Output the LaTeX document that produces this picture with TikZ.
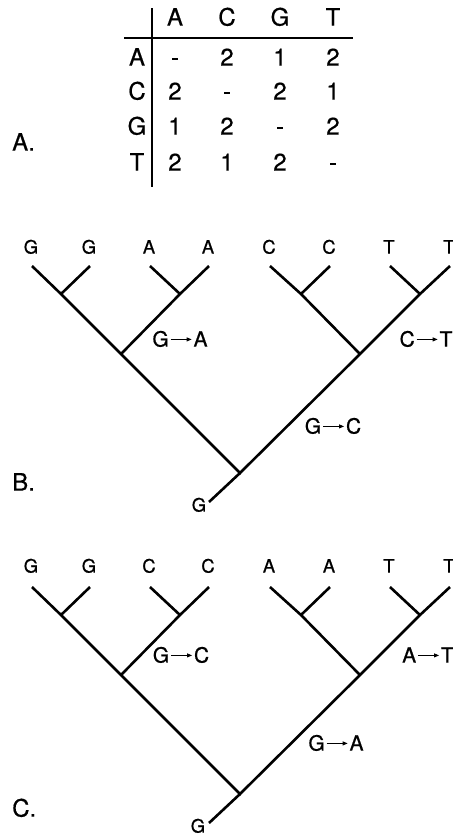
\documentclass[tikz,border=0pt]{standalone}
\usepackage{fontspec}
\setmainfont{TeX Gyre Heros}[FakeBold=0.6]
\usetikzlibrary{arrows.meta,calc}
\newcommand{\mutarrow}{\tikz[baseline=0pt]\draw[line width=0.8pt,-{Triangle[length=5pt,width=4pt]}] (0,7.2pt) -- (21pt,7.2pt);}
\newcommand{\mutlab}[2]{#1\hspace{1.5pt}\mutarrow\hspace{1.5pt}#2}
\tikzset{
  branch/.style={line width=2.6pt, line cap=butt},
  txt/.style={inner sep=0pt, text height=0.72em, text depth=0pt},
  leaflab/.style={txt, font=\fontsize{18.5}{20}\selectfont},
  mutlabel/.style={txt, font=\fontsize{21}{23}\selectfont},
  tablab/.style={txt, font=\fontsize{24}{26}\selectfont},
  panel/.style={txt, font=\fontsize{24}{26}\selectfont, anchor=west},
  rule/.style={line width=1.2pt}
}
\begin{document}
\begin{tikzpicture}[x=1pt,y=-1pt]
\useasboundingbox (0,0) rectangle (453,839);
% ---------- Panel A: table ----------
\node[panel] (pA) at (12,147) {A.};
\coordinate (vtop) at (152,8);
\coordinate (vbot) at (152,187);
\coordinate (hl) at (124,38);
\coordinate (hr) at (353,38);
\draw[rule] (vtop) -- (vbot);
\draw[rule] (hl) -- (hr);
\foreach \l/\x in {A/175,C/227,G/280,T/333}{
  \node[tablab] (h\l) at (\x,22) {\l};
}
\foreach \l/\y/\a/\b/\c/\d in {A/62/-/2/1/2, C/96/2/-/2/1, G/131/1/2/-/2, T/167/2/1/2/-}{
  \node[tablab] (r\l) at (137,\y) {\l};
  \node[tablab] (r\l a) at (175,\y) {\a};
  \node[tablab] (r\l c) at (227,\y) {\b};
  \node[tablab] (r\l g) at (280,\y) {\c};
  \node[tablab] (r\l t) at (333,\y) {\d};
}
% ---------- Panel B ----------
\node[panel] (pB) at (12,487) {B.};
\begin{scope}
  \coordinate (b1) at (32,266);  \coordinate (b2) at (90,266);
  \coordinate (b3) at (150,266); \coordinate (b4) at (209,266);
  \coordinate (b5) at (270,266); \coordinate (b6) at (330,266);
  \coordinate (b7) at (390,266); \coordinate (b8) at (450,266);
  \coordinate (bc1) at (61,294);  \coordinate (bc2) at (180,294);
  \coordinate (bc3) at (301,294); \coordinate (bc4) at (420,294);
  \coordinate (bm1) at (121,354); \coordinate (bm2) at (360,354);
  \coordinate (br) at (240,473);
  \coordinate (bt) at (209,502);
  \draw[branch] (b1) -- (bc1) -- (bm1) -- (br) -- (bm2) -- (bc4) -- (b8);
  \draw[branch] (b2) -- (bc1);
  \draw[branch] (b3) -- (bc2); \draw[branch] (b4) -- (bc2) -- (bm1);
  \draw[branch] (b5) -- (bc3) -- (bm2);
  \draw[branch] (b6) -- (bc3);
  \draw[branch] (b7) -- (bc4);
  \draw[branch] (br) -- (bt);
  \foreach \i/\l in {1/G,2/G,3/A,4/A,5/C,6/C,7/T,8/T}{
    \node[leaflab] (bl\i) at ($(b\i)+(-1,-16)$) {\l};
  }
  \node[leaflab] (broot) at (199,508) {G};
  \node[mutlabel] (bmut1) at (180,343) {\mutlab{G}{A}};
  \node[mutlabel] (bmut2) at (426,343) {\mutlab{C}{T}};
  \node[mutlabel] (bmut3) at (333,430) {\mutlab{G}{C}};
\end{scope}
% ---------- Panel C ----------
\node[panel] (pC) at (12,813) {C.};
\begin{scope}[yshift=-321pt]
  \coordinate (c1) at (32,266);  \coordinate (c2) at (90,266);
  \coordinate (c3) at (150,266); \coordinate (c4) at (209,266);
  \coordinate (c5) at (270,266); \coordinate (c6) at (330,266);
  \coordinate (c7) at (390,266); \coordinate (c8) at (450,266);
  \coordinate (cc1) at (61,294);  \coordinate (cc2) at (180,294);
  \coordinate (cc3) at (301,294); \coordinate (cc4) at (420,294);
  \coordinate (cm1) at (121,354); \coordinate (cm2) at (360,354);
  \coordinate (cr) at (240,473);
  \coordinate (ct) at (209,502);
  \draw[branch] (c1) -- (cc1) -- (cm1) -- (cr) -- (cm2) -- (cc4) -- (c8);
  \draw[branch] (c2) -- (cc1);
  \draw[branch] (c3) -- (cc2); \draw[branch] (c4) -- (cc2) -- (cm1);
  \draw[branch] (c5) -- (cc3) -- (cm2);
  \draw[branch] (c6) -- (cc3);
  \draw[branch] (c7) -- (cc4);
  \draw[branch] (cr) -- (ct);
  \foreach \i/\l in {1/G,2/G,3/C,4/C,5/A,6/A,7/T,8/T}{
    \node[leaflab] (cl\i) at ($(c\i)+(-1,-18)$) {\l};
  }
  \node[leaflab] (croot) at (198,508) {G};
  \node[mutlabel] (cmut1) at (181,338) {\mutlab{G}{C}};
  \node[mutlabel] (cmut2) at (428,338) {\mutlab{A}{T}};
  \node[mutlabel] (cmut3) at (336,426) {\mutlab{G}{A}};
\end{scope}
\end{tikzpicture}
\end{document}
